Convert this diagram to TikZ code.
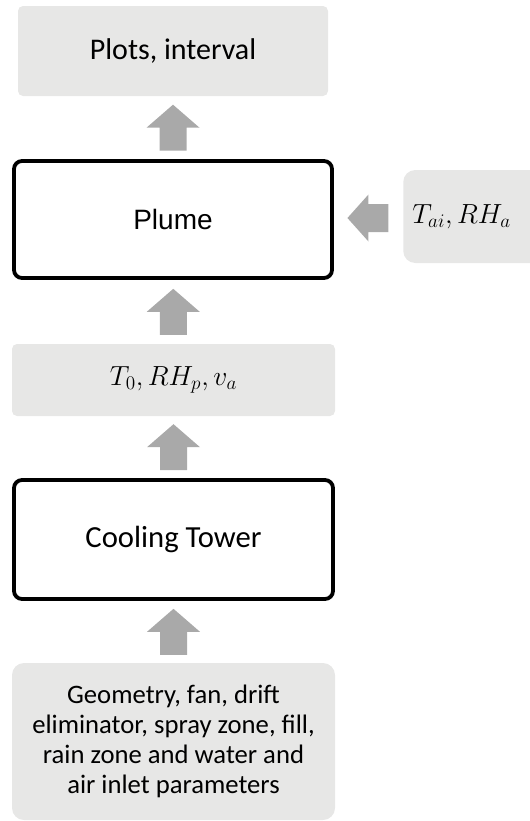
\documentclass[tikz,border=0pt]{standalone}
\usepackage{fontspec}
\setmainfont{Carlito}
\newfontfamily\arialfont{Liberation Sans}
\usetikzlibrary{calc}
\definecolor{boxgray}{HTML}{E7E7E6}
\definecolor{arrowgray}{HTML}{A9A9A9}
\def\px{0.75pt}
\tikzset{
  graybox/.style={fill=boxgray, draw=none, inner sep=0pt, align=center},
  blackbox/.style={draw=black, line width=3.8*\px, fill=white, inner sep=0pt,
    rounded corners=8*\px, align=center},
  blockup/.pic={\fill[arrowgray] (-13.5,23) -- (-13.5,0) -- (-26.5,0) -- (0,-23)
    -- (26.5,0) -- (13.5,0) -- (13.5,23) -- cycle;},
  blockleft/.pic={\fill[arrowgray] (20,-14) -- (0,-14) -- (0,-23.5) -- (-21,0)
    -- (0,23.5) -- (0,14) -- (20,14) -- cycle;}
}
\begin{document}
\begin{tikzpicture}[x=0.75pt,y=-0.75pt]
\useasboundingbox (0,0) rectangle (530,821);

% boxes
\node[graybox, rounded corners=5*\px, minimum width=310*\px, minimum height=90*\px,
  font=\fontsize{22.5}{27}\selectfont] (plots) at (173,51) {Plots, interval};
\node[blackbox, minimum width=318*\px, minimum height=117*\px,
  font=\arialfont\fontsize{21}{25}\selectfont] (plume) at (173,219.5) {Plume};
\node[graybox, rounded corners=12*\px, anchor=west, text width=130*\px, align=left,
  inner xsep=9*\px, minimum height=93*\px,
  font=\fontsize{21.5}{26}\selectfont] (tai) at (403,216.5) {$T_{ai}, RH_a$};
\node[graybox, rounded corners=5*\px, minimum width=323*\px, minimum height=72*\px,
  font=\fontsize{21.5}{26}\selectfont] (out) at (173.5,380) {$T_0, RH_p, v_a$};
\node[blackbox, minimum width=319*\px, minimum height=119*\px,
  font=\fontsize{23}{27}\selectfont] (tower) at (173.5,539.5) {Cooling Tower};
\node[graybox, rounded corners=12*\px, minimum width=323*\px, minimum height=157*\px,
  font=\fontsize{20}{22.5}\selectfont] (inp) at (173.5,741.5)
  {Geometry, fan, drift\\eliminator, spray zone, fill,\\rain zone and water and\\air inlet parameters};

% block arrows between boxes
\pic at ($(inp.north)!0.5!(tower.south)$) {blockup};
\pic at ($(tower.north)!0.5!(out.south)$) {blockup};
\pic at ($(out.north)!0.5!(plume.south)$) {blockup};
\pic at ($(plume.north)!0.5!(plots.south)$) {blockup};
\pic at ($(plume.east)!0.5!(tai.west)$) {blockleft};
\end{tikzpicture}
\end{document}
